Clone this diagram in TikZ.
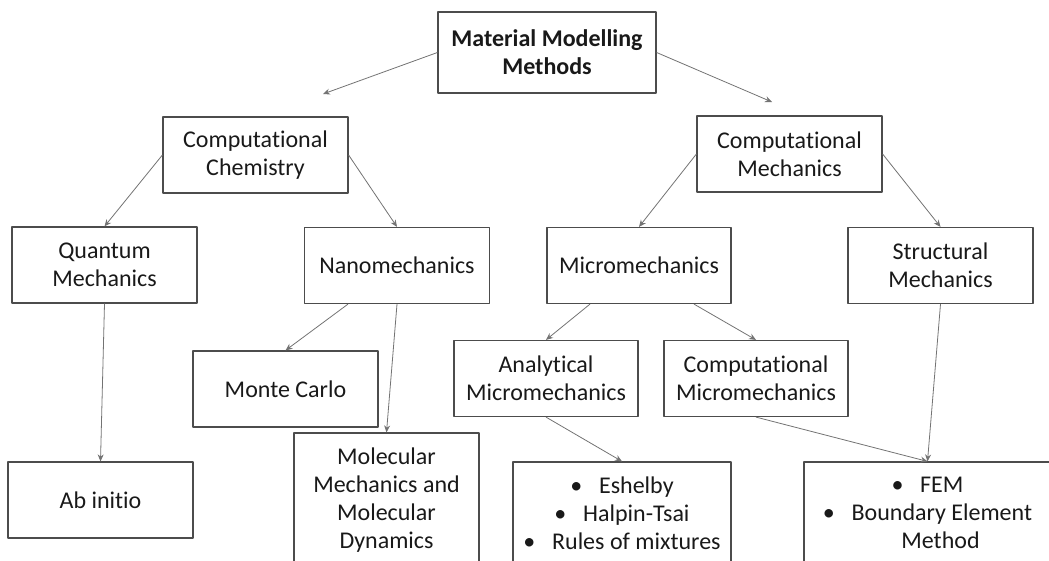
\documentclass[tikz,border=0pt]{standalone}
\usepackage{fontspec}
\setmainfont{Carlito}[Ligatures=NoCommon]
\usetikzlibrary{arrows.meta}
\begin{document}
\begin{tikzpicture}[x=1pt, y=-1pt, line join=round, >={Stealth[length=7pt,width=6pt]},
	font=\fontsize{24}{28}\selectfont, text=black!90,
	box/.style={draw=black!70, line width=1.2pt, align=center, inner sep=0pt,
		minimum width=185pt, minimum height=76pt},
	arr/.style={->, draw=black!55, line width=0.8pt}]
	\useasboundingbox (0,0) rectangle (1049,560);
	% top level
	\node[box, minimum width=218pt, minimum height=81pt, font=\fontsize{24}{28}\selectfont\bfseries] (mmm) at (547,52.5) {Material Modelling\\Methods};
	\coordinate (chemend) at (323,94);
	\coordinate (mechend) at (772,102);
	% second level
	\node[box] (chem) at (255.5,155) {Computational\\Chemistry};
	\node[box] (mech) at (789.5,154) {Computational\\Mechanics};
	% third level
	\node[box] (quant) at (104.5,265) {Quantum\\Mechanics};
	\node[box] (nano) at (397,265.5) {Nanomechanics};
	\node[box, minimum width=184pt] (micro) at (639,265.5) {Micromechanics};
	\node[box] (struct) at (940.5,265.5) {Structural\\Mechanics};
	% lower levels
	\node[box] (monte) at (285.5,389) {Monte Carlo};
	\node[box, minimum width=184pt] (anamic) at (546,378.5) {Analytical\\Micromechanics};
	\node[box, minimum width=184pt] (compmic) at (756,378.5) {Computational\\Micromechanics};
	\node[box] (abinit) at (100.5,500) {Ab initio};
	\node[box, minimum height=134pt] (molec) at (386.5,500) {Molecular\\Mechanics and\\Molecular\\Dynamics};
	\node[box, minimum width=218pt, minimum height=102pt] (eshelby) at (622,513)
		{\textbullet\hspace{.7em}Eshelby\\ \textbullet\hspace{.7em}Halpin-Tsai\\ \textbullet\hspace{.7em}Rules of mixtures};
	\node[box, minimum width=247pt, minimum height=102pt] (fem) at (927.5,513)
		{\textbullet\hspace{.7em}FEM\\ \textbullet\hspace{.7em}Boundary Element\\ \hspace{26pt}Method};

	\draw[arr] (mmm.west) -- (chemend);
	\draw[arr] (mmm.east) -- (mechend);
	\foreach \a/\b in {chem.west/quant.north, chem.east/nano.north, quant.south/abinit.north,
		nano.south/molec.north, mech.west/micro.north, mech.east/struct.north,
		anamic.south/eshelby.north, compmic.south/fem.north, struct.south/fem.north}
		\draw[arr] (\a) -- (\b);
	\draw[arr] ([xshift=-49pt]nano.south) -- (monte.north);
	\draw[arr] ([xshift=-49pt]micro.south) -- (anamic.north);
	\draw[arr] ([xshift=55pt]micro.south) -- (compmic.north);
\end{tikzpicture}
\end{document}
